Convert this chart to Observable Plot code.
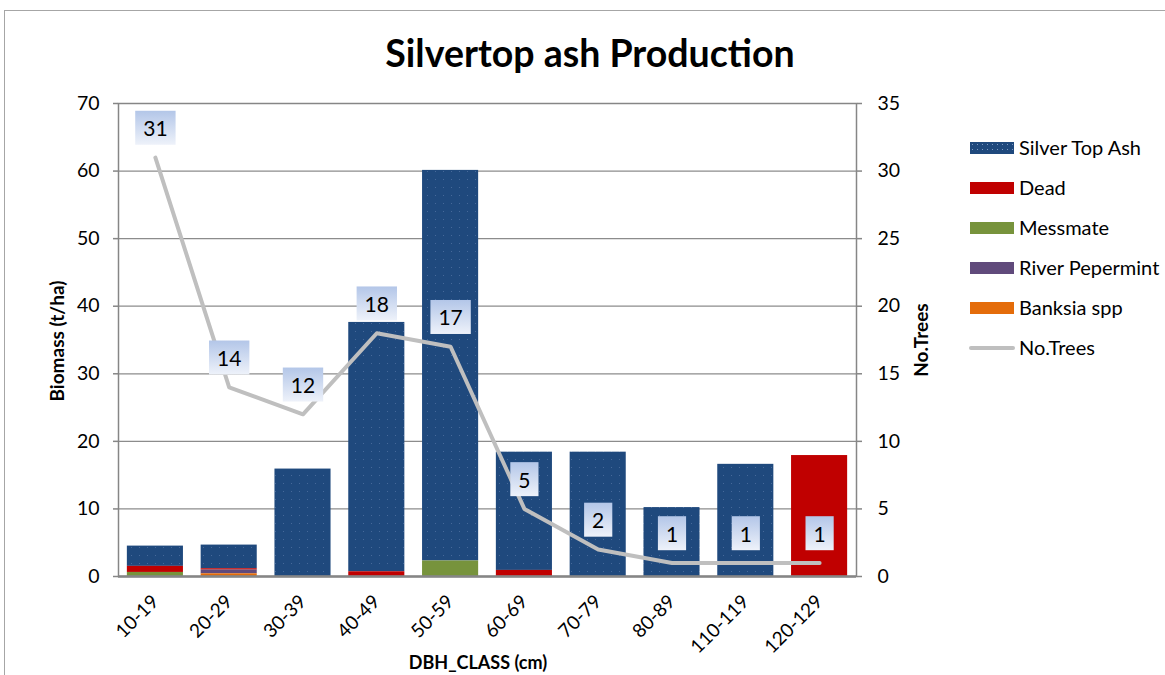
<!DOCTYPE html>
<html><head><meta charset="utf-8">
<script src="https://cdn.jsdelivr.net/npm/d3@7"></script>
<script src="https://cdn.jsdelivr.net/npm/@observablehq/plot@0.6"></script>
<style>
body{margin:0;background:#fff;font-family:Lato,"Open Sans",sans-serif;color:#000}
#wrap{position:relative;width:1165px;height:675px;overflow:hidden;background:#fff}
#frame{position:absolute;left:4px;top:10px;width:1300px;height:800px;border:1.5px solid #a6a6a6;box-sizing:border-box}
.layer{position:absolute;left:0;top:0}
#title{position:absolute;left:0px;top:31px;width:1180px;text-align:center;font-weight:bold;font-size:37.5px;line-height:44px}
.atitle{position:absolute;font-weight:bold;font-size:19px;white-space:nowrap;line-height:20px}
#xlab{font-size:18px}
#legend{position:absolute;left:969px;top:138px}
.li{position:relative;height:40px;font-size:20px;white-space:nowrap}
.sw{position:absolute;left:1px;top:4px;width:44px;height:12px}
.lt{position:absolute;left:50px;top:-2px;line-height:22px}
</style></head><body>
<div id="wrap">
  <div id="frame"></div>
  <div id="p1" class="layer"></div>
  <div id="p2" class="layer"></div>
  <div id="title">Silvertop ash Production</div>
  <div class="atitle" id="ylab">Biomass (t/ha)</div>
  <div class="atitle" id="y2lab">No.Trees</div>
  <div class="atitle" id="xlab">DBH_CLASS (cm)</div>
  <div id="legend"></div>
</div>
<script>
// ---- data ----
const classes = ["10-19","20-29","30-39","40-49","50-59","60-69","70-79","80-89","110-119","120-129"];
const silverTopAsh   = [3.0, 3.5, 15.9, 36.9, 57.8, 17.5, 18.4, 10.2, 16.6, 0];
const dead           = [0.9, 0.2, 0,    0.7,  0,    0.9,  0,    0,    0,    17.9];
const messmate       = [0.6, 0,   0,    0,    2.3,  0,    0,    0,    0,    0];
const riverPepermint = [0,   0.55,0,    0,    0,    0,    0,    0,    0,    0];
const banksia        = [0,   0.4, 0,    0,    0,    0,    0,    0,    0,    0];
const noTrees        = [31, 14, 12, 18, 17, 5, 2, 1, 1, 1];
const speciesNames = ["Silver Top Ash","Dead","Messmate","River Pepermint","Banksia spp"];
const speciesColors = ["#1F497D","#C00000","#77933C","#604A7B","#E46C0A"];
const leftTicks = [0,10,20,30,40,50,60,70];
const rightTicks = [0,5,10,15,20,25,30,35];

const seriesValues = [silverTopAsh, dead, messmate, riverPepermint, banksia];
const stackOrder = ["Banksia spp","River Pepermint","Messmate","Dead","Silver Top Ash"];
const rows = [];
speciesNames.forEach((s, si) => classes.forEach((c, ci) => rows.push({cls: c, species: s, value: seriesValues[si][ci]})));
const treeRows = classes.map((c, i) => ({cls: c, trees: noTrees[i]}));

const W = 1165, H = 675, mL = 118, mR = 309, mT = 103, mB = 99;
const xOpts = {domain: classes, paddingInner: 0.24, paddingOuter: 0.12, round: false};
const fillRange = ["url(#dots)", ...speciesColors.slice(1)];

const p1 = Plot.plot({
  width: W, height: H, marginLeft: mL, marginRight: mR, marginTop: mT, marginBottom: mB,
  style: {background: "transparent", fontFamily: "Lato, sans-serif", fontSize: "19px", color: "#000"},
  x: {...xOpts, label: null},
  y: {domain: [0, 70], label: null},
  color: {domain: speciesNames, range: fillRange},
  marks: [
    Plot.gridY(leftTicks, {stroke: "#8c8c8c", strokeOpacity: 1, strokeWidth: 1.2}),
    Plot.barY(rows, {x: "cls", y: "value", fill: "species", order: stackOrder}),
    Plot.frame({stroke: "#868686", strokeWidth: 1.5}),
    Plot.ruleY([0], {stroke: "#868686", strokeWidth: 2.5}),
    Plot.axisY(leftTicks, {anchor: "left", tickSize: 5, tickPadding: 14, stroke: "#868686", strokeWidth: 1.5, fontSize: 19.5, label: null}),
    Plot.axisX({tickSize: 0, tickRotate: -45, fontSize: 19, tickPadding: 22, label: null})
  ]
});
document.getElementById("p1").appendChild(p1);
{
  const ns = "http://www.w3.org/2000/svg";
  const defs = document.createElementNS(ns, "defs");
  defs.innerHTML = `<pattern id="dots" patternUnits="userSpaceOnUse" width="8" height="8">
    <rect width="8" height="8" fill="#1F497D"/>
    <rect x="3" y="3" width="1" height="1" fill="#46699a"/>
  </pattern>`;
  p1.insertBefore(defs, p1.firstChild);
}

const p2 = Plot.plot({
  width: W, height: H, marginLeft: mL, marginRight: mR, marginTop: mT, marginBottom: mB,
  style: {background: "transparent", fontFamily: "Lato, sans-serif", fontSize: "19px", color: "#000"},
  x: {...xOpts, axis: null},
  y: {domain: [0, 35], label: null, axis: null},
  marks: [
    Plot.axisY(rightTicks, {anchor: "right", tickSize: 5, tickPadding: 16, stroke: "#868686", strokeWidth: 1.5, fontSize: 19.5, label: null}),
    Plot.line(treeRows, {x: "cls", y: "trees", stroke: "#BFBFBF", strokeWidth: 4}),
    Plot.text(treeRows, {x: "cls", y: "trees", text: d => String(d.trees), dy: -28, fontSize: 21, fill: "#000"})
  ]
});
document.getElementById("p2").appendChild(p2);
{
  const ns = "http://www.w3.org/2000/svg";
  const defs = document.createElementNS(ns, "defs");
  defs.innerHTML = `<linearGradient id="lblg" x1="0" y1="0" x2="0" y2="1">
    <stop offset="0" stop-color="#b3c6e8"/><stop offset="1" stop-color="#eef2fa"/></linearGradient>`;
  p2.insertBefore(defs, p2.firstChild);
  const groups = Array.from(p2.querySelectorAll('g[aria-label="text"]'));
  groups.forEach(g => g.querySelectorAll('text').forEach(t => {
    const b = t.getBBox();
    const r = document.createElementNS(ns, "rect");
    const padX = 8, h = 34;
    r.setAttribute("x", b.x - padX);
    r.setAttribute("y", b.y + b.height / 2 - h / 2);
    r.setAttribute("width", b.width + 2 * padX);
    r.setAttribute("height", h);
    r.setAttribute("fill", "url(#lblg)");
    if (t.getAttribute("transform")) r.setAttribute("transform", t.getAttribute("transform"));
    t.parentNode.insertBefore(r, t);
  }));
}

// axis titles
const ylab = document.getElementById("ylab");
ylab.style.left = (57 - 80) + "px"; ylab.style.top = (341 - 10) + "px";
ylab.style.width = "160px"; ylab.style.textAlign = "center"; ylab.style.transform = "rotate(-90deg)";
const y2 = document.getElementById("y2lab");
y2.style.left = (921 - 50) + "px"; y2.style.top = (340 - 10) + "px";
y2.style.width = "100px"; y2.style.textAlign = "center"; y2.style.transform = "rotate(-90deg)";
const xl = document.getElementById("xlab");
xl.style.left = (478 - 100) + "px"; xl.style.top = (662 - 10) + "px";
xl.style.width = "200px"; xl.style.textAlign = "center";

// legend
const legendItems = speciesNames.map((s, i) => ({name: s, color: speciesColors[i], type: "bar"}))
  .concat([{name: "No.Trees", color: "#BFBFBF", type: "line"}]);
const lg = document.getElementById("legend");
legendItems.forEach(it => {
  const d = document.createElement("div"); d.className = "li";
  const sw = document.createElement("div"); sw.className = "sw";
  if (it.type === "line") { sw.style.top = "8px"; sw.style.height = "4px"; sw.style.borderRadius = "2px"; sw.style.background = it.color; sw.style.width = "46px"; sw.style.left = "0px"; }
  else if (it.name === "Silver Top Ash") {
    sw.style.background = it.color;
    sw.style.backgroundImage = "radial-gradient(circle, #7f9cc4 0.6px, transparent 0.9px)";
    sw.style.backgroundSize = "5px 5px";
  } else sw.style.background = it.color;
  const t = document.createElement("div"); t.className = "lt"; t.textContent = it.name;
  d.appendChild(sw); d.appendChild(t); lg.appendChild(d);
});
</script>
</body></html>
